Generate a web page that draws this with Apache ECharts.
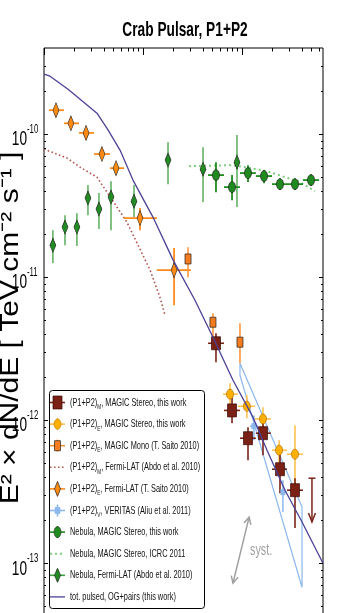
<!DOCTYPE html>
<html><head><meta charset="utf-8">
<script src="https://cdn.jsdelivr.net/npm/echarts@6/dist/echarts.min.js"></script>
<style>html,body{margin:0;padding:0;overflow:hidden;background:#fff;width:338px;height:613px}#c{width:338px;height:640px}</style>
</head><body><div id="c"></div><script>
// ---------------- data (energy in GeV, flux E^2 dN/dE in TeV cm^-2 s^-1) ----------------
const titleText = 'Crab Pulsar, P1+P2';
const yAxisName = 'E\u00b2 \u00d7 dN/dE [ TeV cm\u207b\u00b2 s\u207b\u00b9 ]';
const xMin = 1, xMax = 658, yMin = 3e-14, yMax = 4e-10;
const yMajorTicks = [1e-13, 1e-12, 1e-11, 1e-10];
const yTickBase = ['10', '10', '10', '10'];
const yTickExp = ['-13', '-12', '-11', '-10'];

// total pulsed model, OG+pairs
const modelX = [1, 1.15, 1.75, 3.43, 4.43, 5.86, 7.92, 12.6, 20.1, 33.5, 50.9, 81.1, 129, 179, 272, 404, 658];
const modelY = [2.63e-10, 2.54e-10, 2.06e-10, 1.40e-10, 1.07e-10, 7.73e-11, 4.77e-11, 2.63e-11, 1.32e-11, 6.90e-12, 3.80e-12, 1.90e-12, 1.05e-12, 6.17e-13, 3.24e-13, 1.94e-13, 1.0e-13];

// (P1+P2)M Fermi-LAT (Abdo 2010) dotted
const fermiMX = [1, 1.71, 2.31, 3.43, 5.46, 6.89, 8.70, 11.8, 14.8, 16.7];
const fermiMY = [7.85e-11, 6.80e-11, 5.88e-11, 5.00e-11, 3.09e-11, 2.42e-11, 1.73e-11, 1.12e-11, 7.25e-12, 5.42e-12];

// Nebula MAGIC ICRC 2011 dotted
const icrcX = [29.2, 81.1, 179, 385, 546];
const icrcY = [5.97e-11, 6.07e-11, 5.51e-11, 4.62e-11, 3.99e-11];

// (P1+P2)M MAGIC Stereo
const mstX = [54.6, 79.3, 115, 163, 242, 343];
const mstXlo = [45.4, 65.8, 95.4, 138, 201, 285];
const mstXhi = [65.8, 95.4, 138, 196, 285, 413];
const mstY = [3.45e-12, 1.17e-12, 7.48e-13, 8.11e-13, 4.54e-13, 3.24e-13];
const mstYlo = [2.54e-12, 9.53e-13, 5.25e-13, 5.69e-13, 3.09e-13, 1.76e-13];
const mstYhi = [4.06e-12, 1.45e-12, 8.93e-13, 1.0e-12, 6.17e-13, 3.93e-13];
const mstUlX = [509];
const mstUlY = [3.93e-13];
const mstUlEnd = [1.94e-13];

// (P1+P2)E MAGIC Stereo
const mseX = [75.7, 112, 163, 237, 343];
const mseXlo = [64.3, 91.1, 135, 201, 285];
const mseXhi = [91.1, 135, 196, 285, 413];
const mseY = [1.52e-12, 1.25e-12, 1.02e-12, 6.17e-13, 5.78e-13];
const mseYlo = [1.27e-12, 1.03e-12, 8.11e-13, 4.47e-13, 3.51e-13];
const mseYhi = [1.81e-12, 1.50e-12, 1.23e-12, 7.25e-13, 9.23e-13];

// (P1+P2)E MAGIC Mono
const monoX = [28.5, 50.9, 95.4];
const monoY = [1.34e-11, 4.84e-12, 3.51e-12];
const monoYlo = [1.0e-11, 3.63e-12, 2.50e-12];
const monoYhi = [1.62e-11, 5.60e-12, 4.77e-12];

// (P1+P2)E Fermi-LAT (Saito)
const fsX = [1.32, 1.87, 2.66, 3.85, 5.34, 9.33, 20.6];
const fsXlo = [1.12, 1.59, 2.26, 3.20, 4.64, 6.43, 13.8];
const fsXhi = [1.59, 2.26, 3.20, 4.64, 6.43, 13.8, 30.5];
const fsY = [1.47e-10, 1.19e-10, 1.02e-10, 7.25e-11, 5.78e-11, 2.59e-11, 1.12e-11];
const fsYlo = [1.36e-10, 1.10e-10, 9.38e-11, 6.69e-11, 5.34e-11, 2.13e-11, 6.37e-12];
const fsYhi = [1.60e-10, 1.29e-10, 1.10e-10, 7.85e-11, 6.27e-11, 3.04e-11, 1.60e-11];

// VERITAS
const vtsX = [132, 259];
const vtsXlo = [120, 237];
const vtsXhi = [145, 285];
const vtsY = [9.08e-13, 3.14e-13];
const vtsYlo = [7.25e-13, 2.28e-13];
const vtsYhi = [1.08e-12, 3.80e-13];
const vtsBowX = [95.4, 404, 404, 95.4, 95.4];
const vtsBowY = [2.50e-12, 2.47e-13, 6.79e-14, 2.06e-12, 2.50e-12];

// Nebula MAGIC Stereo
const nmX = [54.6, 79.3, 115, 167, 242, 343, 498];
const nmXlo = [45.4, 65.8, 95.4, 138, 201, 285, 413];
const nmXhi = [65.8, 95.4, 138, 201, 285, 413, 600];
const nmY = [5.17e-11, 4.26e-11, 5.34e-11, 5.09e-11, 4.47e-11, 4.47e-11, 4.77e-11];
const nmYlo = [3.93e-11, 3.45e-11, 4.62e-11, 4.54e-11, 4.06e-11, 4.06e-11, 4.33e-11];
const nmYhi = [6.37e-11, 5.17e-11, 6.07e-11, 5.60e-11, 4.92e-11, 4.92e-11, 5.25e-11];

// Nebula Fermi-LAT
const nfX = [1.23, 1.63, 2.15, 2.78, 3.59, 4.75, 8.11, 17.9, 40.4, 89.0];
const nfY = [1.67e-11, 2.24e-11, 2.24e-11, 3.57e-11, 2.99e-11, 3.63e-11, 3.40e-11, 6.58e-11, 5.69e-11, 6.37e-11];
const nfYlo = [1.25e-11, 1.67e-11, 1.65e-11, 2.71e-11, 2.17e-11, 2.13e-11, 2.63e-11, 4.47e-11, 3.35e-11, 3.09e-11];
const nfYhi = [2.13e-11, 2.71e-11, 2.80e-11, 4.40e-11, 3.87e-11, 4.69e-11, 4.40e-11, 8.79e-11, 8.11e-11, 9.84e-11];

// systematic arrow + label
const systX = [81.1, 118];
const systY = [7.25e-14, 2.10e-13];
const systLabel = {text: 'syst.', x: 156, y: 1.23e-13};

const legendTexts = [
  ['(P1+P2)', 'M', ', MAGIC Stereo, this work'],
  ['(P1+P2)', 'E', ', MAGIC Stereo, this work'],
  ['(P1+P2)', 'E', ', MAGIC Mono (T. Saito 2010)'],
  ['(P1+P2)', 'M', ', Fermi-LAT (Abdo et al. 2010)'],
  ['(P1+P2)', 'E', ', Fermi-LAT (T. Saito 2010)'],
  ['(P1+P2)', 'V', ', VERITAS (Aliu et al. 2011)'],
  ['Nebula, MAGIC Stereo, this work', '', ''],
  ['Nebula, MAGIC Stereo, ICRC 2011', '', ''],
  ['Nebula, Fermi-LAT (Abdo et al. 2010)', '', ''],
  ['tot. pulsed, OG+pairs (this work)', '', '']
];

// ---------------- styles ----------------
const C = {
  brown: '#7a2015', brownErr: '#7a2418',
  gold: '#ffb000', goldErr: '#ffbe45',
  mono: '#f57d1f', monoErr: '#ff9030',
  fs: '#ff8a12', fsErr: '#ff8a1a',
  vts: '#8cb8ee',
  nm: '#1f8a1f', nmErr: '#1f8a1f',
  nf: '#228b22', nfErr: '#3c9e3c',
  model: '#4a4294', fermiM: '#b0504a', icrc: '#7ccc7c', syst: '#a0a0a0'
};
const FONT = '"Liberation Sans", Arial, sans-serif';
const ELLIPSE = 'path://M0,-1A1,1,0,1,1,0,1A1,1,0,1,1,0,-1Z';

const zip = (X, Y) => X.map((x, i) => [x, Y[i]]);

function errorBars(color, lw, X, Y, Xlo, Xhi, Ylo, Yhi, opacity) {
  const data = X.map((x, i) => [x, Y[i], Xlo ? Xlo[i] : x, Xhi ? Xhi[i] : x, Ylo ? Ylo[i] : Y[i], Yhi ? Yhi[i] : Y[i]]);
  return {
    type: 'custom', z: 3, silent: true, data, encode: {x: [0, 2, 3], y: [1, 4, 5]},
    renderItem(params, api) {
      const x = api.value(0), y = api.value(1);
      const a = api.coord([api.value(2), y]), b = api.coord([api.value(3), y]);
      const c = api.coord([x, api.value(4)]), d = api.coord([x, api.value(5)]);
      const st = {stroke: color, lineWidth: lw, opacity: opacity || 1};
      return {type: 'group', children: [
        {type: 'line', shape: {x1: a[0], y1: a[1], x2: b[0], y2: b[1]}, style: st},
        {type: 'line', shape: {x1: c[0], y1: c[1], x2: d[0], y2: d[1]}, style: st}
      ]};
    }
  };
}
function markers(symbol, size, fill, X, Y, border, bw) {
  return {type: 'scatter', z: 4, silent: true, symbol, symbolSize: size, data: zip(X, Y),
    itemStyle: {color: fill, borderColor: border || '#222', borderWidth: bw == null ? 0.7 : bw, opacity: 1}};
}
function lineSeries(X, Y, color, width, dash, z) {
  return {type: 'line', z: z || 2, silent: true, data: zip(X, Y), symbol: 'none', smooth: false,
    lineStyle: {color, width, type: dash || 'solid'}};
}

function minorValues(lo, hi) {
  const out = [];
  for (let k = Math.floor(Math.log10(lo)); k <= Math.ceil(Math.log10(hi)); k++) {
    for (let m = 2; m <= 9; m++) { const v = m * Math.pow(10, k); if (v > lo && v < hi) out.push(v); }
  }
  return out;
}
function majorValues(lo, hi) {
  const out = [];
  for (let k = Math.ceil(Math.log10(lo) - 1e-9); k <= Math.floor(Math.log10(hi) + 1e-9); k++) out.push(Math.pow(10, k));
  return out;
}

const ticksSeries = {
  type: 'custom', z: 10, silent: true, clip: false, data: [[xMin, yMax]],
  renderItem(params, api) {
    const cs = params.coordSys;
    const L = cs.x, R = cs.x + cs.width, T = cs.y, B = cs.y + cs.height;
    const ch = [];
    const ln = (x1, y1, x2, y2) => ch.push({type: 'line', shape: {x1, y1, x2, y2}, style: {stroke: '#000', lineWidth: 1}});
    majorValues(xMin, xMax).forEach(v => { const p = Math.round(api.coord([v, yMax])[0]) + 0.5; ln(p, T, p, T + 7); ln(p, B, p, B - 7); });
    minorValues(xMin, xMax).forEach(v => { const p = Math.round(api.coord([v, yMax])[0]) + 0.5; ln(p, T, p, T + 3.5); ln(p, B, p, B - 3.5); });
    majorValues(yMin, yMax).forEach(v => { const p = Math.round(api.coord([xMin, v])[1]) + 0.5; ln(L, p, L + 4, p); ln(R, p, R - 4, p); });
    minorValues(yMin, yMax).forEach(v => { const p = Math.round(api.coord([xMin, v])[1]) + 0.5; ln(L, p, L + 2, p); ln(R, p, R - 2, p); });
    return {type: 'group', children: ch};
  }
};

const ulSeries = {
  type: 'custom', z: 3, silent: true, data: mstUlX.map((x, i) => [x, mstUlY[i], mstUlEnd[i]]),
  renderItem(params, api) {
    const a = api.coord([api.value(0), api.value(1)]), b = api.coord([api.value(0), api.value(2)]);
    const st = {stroke: C.brownErr, lineWidth: 1.5, fill: null};
    return {type: 'group', children: [
      {type: 'line', shape: {x1: a[0] - 3.5, y1: a[1], x2: a[0] + 3.5, y2: a[1]}, style: st},
      {type: 'line', shape: {x1: a[0], y1: a[1], x2: b[0], y2: b[1]}, style: st},
      {type: 'polyline', shape: {points: [[b[0] - 3.5, b[1] - 9], [b[0], b[1]], [b[0] + 3.5, b[1] - 9]]}, style: st}
    ]};
  }
};

const systSeries = {
  type: 'custom', z: 3, silent: true, data: [[systX[0], systY[0], systX[1], systY[1]]],
  renderItem(params, api) {
    const a = api.coord([api.value(0), api.value(1)]), b = api.coord([api.value(2), api.value(3)]);
    const dx = b[0] - a[0], dy = b[1] - a[1], len = Math.hypot(dx, dy), ux = dx / len, uy = dy / len;
    const st = {stroke: C.syst, lineWidth: 1.5, fill: null};
    const head = (p, s) => {
      const bx = p[0] - s * ux * 7, by = p[1] - s * uy * 7;
      return {type: 'polyline', shape: {points: [[bx - uy * 3.5, by + ux * 3.5], p, [bx + uy * 3.5, by - ux * 3.5]]}, style: st};
    };
    return {type: 'group', children: [
      {type: 'line', shape: {x1: a[0], y1: a[1], x2: b[0], y2: b[1]}, style: st},
      head(b, 1), head(a, -1)
    ]};
  }
};

const chart = echarts.init(document.getElementById('c'), null, {renderer: 'canvas'});
const axisBase = {type: 'log', logBase: 10, axisLine: {show: false}, axisTick: {show: false}, axisLabel: {show: false}, splitLine: {show: false}};
chart.setOption({
  animation: false,
  backgroundColor: '#fff',
  grid: {left: 44, right: 15, top: 48, bottom: 2, show: true, borderColor: '#000', borderWidth: 1, backgroundColor: 'transparent'},
  xAxis: Object.assign({min: xMin, max: xMax}, axisBase),
  yAxis: Object.assign({min: yMin, max: yMax}, axisBase),
  series: [
    lineSeries(vtsBowX, vtsBowY, C.vts, 1.2),
    lineSeries(fermiMX, fermiMY, C.fermiM, 1.6, [1.5, 2.5]),
    lineSeries(icrcX, icrcY, C.icrc, 2, [2, 3]),
    errorBars(C.nfErr, 1.5, nfX, nfY, null, null, nfYlo, nfYhi, 0.85),
    markers('diamond', [6, 14], C.nf, nfX, nfY),
    errorBars(C.nmErr, 1.8, nmX, nmY, nmXlo, nmXhi, nmYlo, nmYhi),
    markers(ELLIPSE, [7, 11], C.nm, nmX, nmY),
    errorBars(C.fsErr, 1.8, fsX, fsY, fsXlo, fsXhi, fsYlo, fsYhi),
    markers('diamond', [6, 15], C.fs, fsX, fsY),
    errorBars(C.monoErr, 1.5, monoX, monoY, null, null, monoYlo, monoYhi),
    markers('rect', [6, 10], C.mono, monoX, monoY),
    errorBars(C.vts, 1.5, vtsX, vtsY, vtsXlo, vtsXhi, vtsYlo, vtsYhi),
    markers('rect', [5, 6], C.vts, vtsX, vtsY, C.vts, 0),
    errorBars(C.goldErr, 1.5, mseX, mseY, mseXlo, mseXhi, mseYlo, mseYhi),
    markers(ELLIPSE, [7, 10], C.gold, mseX, mseY, '#b07000'),
    errorBars(C.brownErr, 1.6, mstX, mstY, mstXlo, mstXhi, mstYlo, mstYhi),
    markers('rect', [9, 13], C.brown, mstX, mstY, '#3a0c06'),
    ulSeries,
    systSeries,
    lineSeries(modelX, modelY, C.model, 1.3, 'solid', 5),
    ticksSeries
  ]
});

// ---------------- texts / legend (graphic) ----------------
const g = [];
g.push({type: 'text', x: 185, y: 30, scaleX: 0.685, z: 50,
  style: {text: titleText, font: 'bold 20px ' + FONT, fill: '#000', align: 'center', verticalAlign: 'middle', textAlign: 'center', textVerticalAlign: 'middle'}});
g.push({type: 'text', x: 24, y: 328, rotation: Math.PI / 2, scaleY: 0.88, z: 50,
  style: {text: yAxisName, font: '30px ' + FONT, fill: '#000', align: 'center', verticalAlign: 'bottom', textAlign: 'center', textVerticalAlign: 'bottom'}});
yMajorTicks.forEach((v, i) => {
  const py = chart.convertToPixel({yAxisIndex: 0}, v);
  g.push({type: 'text', x: 27, y: py + 5.5, scaleX: 0.65, z: 50,
    style: {text: yTickBase[i], font: '21px ' + FONT, fill: '#000', align: 'right', verticalAlign: 'middle', textAlign: 'right', textVerticalAlign: 'middle'}});
  g.push({type: 'text', x: 27, y: py - 4.5, scaleX: 0.65, z: 50,
    style: {text: yTickExp[i], font: '12px ' + FONT, fill: '#000', align: 'left', verticalAlign: 'middle', textAlign: 'left', textVerticalAlign: 'middle'}});
});
const sp = chart.convertToPixel({gridIndex: 0}, [systLabel.x, systLabel.y]);
g.push({type: 'text', x: sp[0], y: sp[1], scaleX: 0.67, z: 50,
  style: {text: systLabel.text, font: '16px ' + FONT, fill: C.syst, align: 'center', verticalAlign: 'middle', textAlign: 'center', textVerticalAlign: 'middle'}});

// legend
const LX = 49, LY = 390, LW = 155, LH = 218, HX0 = 50, HX1 = 65, HC = 57.5;
g.push({type: 'rect', z: 100, shape: {x: LX + 0.5, y: LY + 0.5, width: LW, height: LH, r: 3}, style: {fill: '#fff', stroke: '#000', lineWidth: 1}});
const handles = [
  {kind: 'err', c: C.brownErr, m: 'rect', w: 9, h: 13, f: C.brown, b: '#3a0c06'},
  {kind: 'err', c: C.goldErr, m: 'ell', w: 7, h: 10, f: C.gold, b: '#b07000'},
  {kind: 'err', c: C.monoErr, m: 'rect', w: 6, h: 10, f: C.mono, b: '#222'},
  {kind: 'line', c: C.fermiM, dash: [1.5, 2.5], lw: 1.6},
  {kind: 'err', c: C.fsErr, m: 'dia', w: 6, h: 15, f: C.fs, b: '#222'},
  {kind: 'err', c: C.vts, m: 'rect', w: 5, h: 6, f: C.vts, b: C.vts},
  {kind: 'err', c: C.nmErr, m: 'ell', w: 7, h: 11, f: C.nm, b: '#222'},
  {kind: 'line', c: C.icrc, dash: [2, 3], lw: 2},
  {kind: 'err', c: C.nfErr, m: 'dia', w: 6, h: 14, f: C.nf, b: '#222'},
  {kind: 'line', c: C.model, dash: null, lw: 1.3}
];
legendTexts.forEach((t, i) => {
  const cy = 402.5 + i * 21.6;
  const h = handles[i];
  if (h.kind === 'line') {
    g.push({type: 'line', z: 101, shape: {x1: HX0, y1: cy, x2: HX1, y2: cy}, style: {stroke: h.c, lineWidth: h.lw, lineDash: h.dash}});
  } else {
    g.push({type: 'line', z: 101, shape: {x1: HX0, y1: cy, x2: HX1, y2: cy}, style: {stroke: h.c, lineWidth: 1.6}});
    g.push({type: 'line', z: 101, shape: {x1: HC, y1: cy - 6, x2: HC, y2: cy + 6}, style: {stroke: h.c, lineWidth: 1.6}});
    const ms = {fill: h.f, stroke: h.b, lineWidth: 0.7};
    if (h.m === 'rect') g.push({type: 'rect', z: 102, shape: {x: HC - h.w / 2, y: cy - h.h / 2, width: h.w, height: h.h}, style: ms});
    else if (h.m === 'ell') g.push({type: 'circle', z: 102, x: HC, y: cy, scaleX: h.w / h.h, shape: {cx: 0, cy: 0, r: h.h / 2}, style: ms});
    else g.push({type: 'polygon', z: 102, shape: {points: [[HC, cy - h.h / 2], [HC + h.w / 2, cy], [HC, cy + h.h / 2], [HC - h.w / 2, cy]]}, style: ms});
  }
  const txt = t[1] ? '{n|' + t[0] + '}{s|' + t[1] + '}{n|' + t[2] + '}' : '{n|' + t[0] + '}';
  g.push({type: 'text', z: 102, x: 70, y: cy, scaleX: 0.67,
    style: {text: txt, fill: '#111', align: 'left', verticalAlign: 'middle', textAlign: 'left', textVerticalAlign: 'middle',
      rich: {n: {fontSize: 11, fontFamily: FONT, fill: '#111', lineHeight: 16, verticalAlign: 'middle'},
             s: {fontSize: 7, fontFamily: FONT, fill: '#111', lineHeight: 16, verticalAlign: 'bottom'}}}});
});
chart.setOption({graphic: {elements: g}});
</script></body></html>
